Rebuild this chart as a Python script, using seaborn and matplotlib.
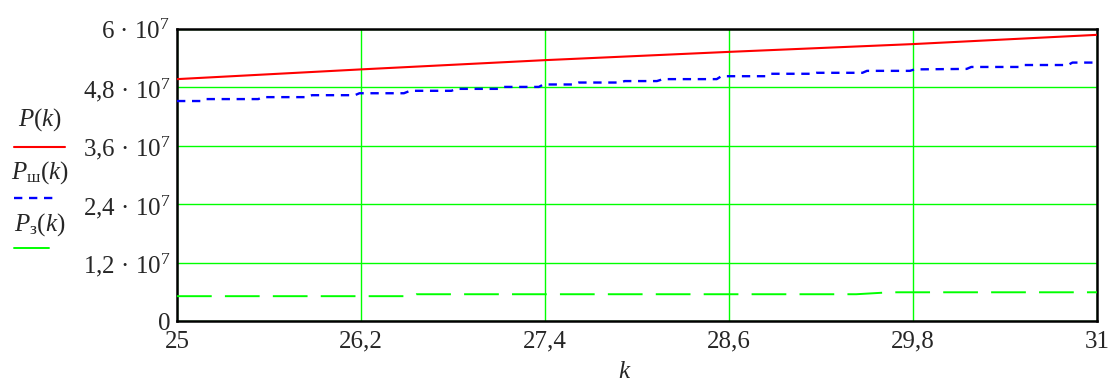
import numpy as np
import pandas as pd
import matplotlib
matplotlib.use("Agg")
import matplotlib.pyplot as plt
from matplotlib.lines import Line2D
import seaborn as sns

# данные (значения в единицах 1e7)
k_p = [25.0, 26.2, 27.4, 28.6, 29.8, 31.0]
p_vals = [4.97, 5.17, 5.36, 5.53, 5.69, 5.88]

k_sh = [25.00, 25.16, 25.19, 25.53, 25.56, 25.85, 25.88, 26.16, 26.19, 26.48,
        26.52, 26.79, 26.82, 27.10, 27.13, 27.36, 27.39, 27.58, 27.62, 27.89,
        27.92, 28.13, 28.17, 28.52, 28.55, 28.84, 28.87, 29.14, 29.17, 29.47,
        29.50, 29.78, 29.81, 30.15, 30.18, 30.49, 30.52, 30.81, 30.84, 31.00]
sh_vals = [4.52, 4.52, 4.56, 4.56, 4.60, 4.60, 4.64, 4.64, 4.68, 4.68,
           4.73, 4.73, 4.77, 4.77, 4.81, 4.81, 4.86, 4.86, 4.90, 4.90,
           4.93, 4.93, 4.97, 4.97, 5.03, 5.03, 5.08, 5.08, 5.10, 5.10,
           5.14, 5.14, 5.17, 5.18, 5.22, 5.22, 5.26, 5.26, 5.31, 5.31]

k_z = [25.0, 26.53, 26.56, 29.43, 29.65, 31.0]
z_vals = [0.51, 0.51, 0.55, 0.55, 0.59, 0.59]

xticks = [25, 26.2, 27.4, 28.6, 29.8, 31]
xtick_labels = ["25", "26,2", "27,4", "28,6", "29,8", "31"]
yticks = [0, 1.2e7, 2.4e7, 3.6e7, 4.8e7, 6e7]
ytick_labels = ["0", "1,2 · 10$^{7}$", "2,4 · 10$^{7}$", "3,6 · 10$^{7}$",
                "4,8 · 10$^{7}$", "6 · 10$^{7}$"]

sns.set_style("white")
plt.rcParams["font.family"] = ["Liberation Serif", "DejaVu Serif"]
plt.rcParams["mathtext.fontset"] = "custom"
plt.rcParams["mathtext.rm"] = "Liberation Serif"
plt.rcParams["mathtext.it"] = "Liberation Serif:italic"
plt.rcParams["lines.scale_dashes"] = False

W, H = 1114, 385
fig, ax = plt.subplots(figsize=(W / 100, H / 100), dpi=100)
fig.subplots_adjust(left=177 / W, right=1097 / W, top=1 - 29 / H, bottom=1 - 321 / H)

df_p = pd.DataFrame({"k": k_p, "v": np.array(p_vals) * 1e7})
df_sh = pd.DataFrame({"k": k_sh, "v": np.array(sh_vals) * 1e7})
df_z = pd.DataFrame({"k": k_z, "v": np.array(z_vals) * 1e7})

sns.lineplot(data=df_p, x="k", y="v", ax=ax, color="#ff0000", lw=1.5, zorder=4)
sns.lineplot(data=df_sh, x="k", y="v", ax=ax, color="#0000ff", lw=1.7,
             linestyle=(0, (6.0, 4.8)), zorder=4)
sns.lineplot(data=df_z, x="k", y="v", ax=ax, color="#00ff00", lw=1.4,
             linestyle=(0, (25, 9.5)), zorder=4)

ax.set_xlim(25, 31)
ax.set_ylim(0, 6e7)
ax.set_xticks(xticks)
ax.set_xticklabels(xtick_labels)
ax.set_yticks(yticks)
ax.set_yticklabels(ytick_labels)
ax.tick_params(axis="both", length=0, labelsize=18)
ax.tick_params(axis="x", pad=7)
ax.tick_params(axis="y", pad=5)
ax.grid(True, color="#00ff00", lw=1.0)
for s in ax.spines.values():
    s.set_color("black")
    s.set_linewidth(1.8)
ax.set_xlabel("")
ax.set_ylabel("")

fig.text(625 / W, 1 - 372 / H, "$k$", ha="center", va="center", fontsize=18)

# легенда в стиле Mathcad: подпись над образцом линии
legend = [("$P(k)$", 120, 147, 14, 65, "#ff0000", "-", 1.5),
          ("$P_{\\mathrm{ш}}(k)$", 173, 198, 14, 56, "#0000ff", (0, (6.0, 4.8)), 1.7),
          ("$P_{\\mathrm{з}}(k)$", 225, 248, 14, 49, "#00ff00", "-", 1.4)]
for label, ty, ly, x0, x1, c, ls, lw in legend:
    fig.text(40 / W, 1 - ty / H, label, ha="center", va="center", fontsize=18)
    fig.add_artist(Line2D([x0 / W, x1 / W], [1 - ly / H, 1 - ly / H],
                          color=c, lw=lw, linestyle=ls, transform=fig.transFigure))

fig.savefig("out.png", dpi=100)
